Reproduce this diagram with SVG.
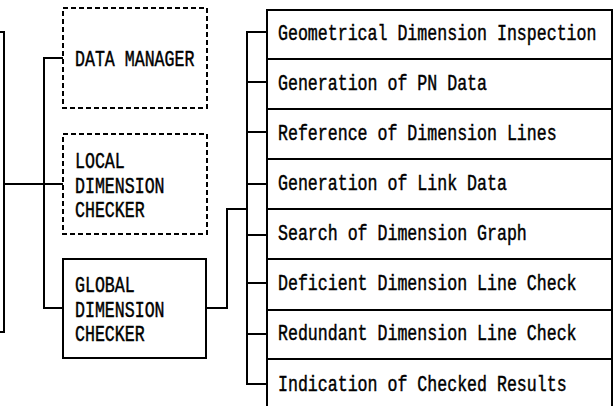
<svg xmlns="http://www.w3.org/2000/svg" width="616" height="406" viewBox="0 0 616 406">
  <style>
    .box { fill: #fff; stroke: #000; stroke-width: 2; }
    .dash { fill: #fff; stroke: #000; stroke-width: 2; stroke-dasharray: 5 3; }
    .wire { fill: none; stroke: #000; stroke-width: 2; }
    text { font-family: "Liberation Mono", "DejaVu Sans Mono", monospace; font-size: 16.6px; fill: #000; stroke: #000; stroke-width: 0.35; }
  </style>
  <rect width="616" height="406" fill="#fff"/>

  <!-- parent block, partly outside the frame -->
  <g id="parent">
    <path class="wire" d="M0,32 H4 V332 H0"/>
  </g>

  <g id="connectors">
    <!-- parent to the three modules -->
    <path class="wire" d="M4,184 H63"/>
    <path class="wire" d="M63,58 H44 V308 H63"/>
    <!-- global checker to its functions -->
    <path class="wire" d="M206,308 H227 V209 H247"/>
    <path class="wire" d="M267,32 H247 V384 H267"/>
    <path class="wire" d="M247,82 H267 M247,132 H267 M247,184 H267 M247,235 H267 M247,283 H267 M247,334 H267"/>
  </g>

  <!-- labels use a tall, narrow face: 10px advance, stretched vertically -->
  <g id="data-manager">
    <rect class="dash" x="63" y="8" width="144" height="100"/>
    <text transform="translate(75,66) scale(1,1.28)">DATA MANAGER</text>
  </g>

  <g id="local-checker">
    <rect class="dash" x="63" y="134" width="144" height="100"/>
    <text transform="translate(75,168) scale(1,1.28)">LOCAL</text>
    <text transform="translate(75,193) scale(1,1.28)">DIMENSION</text>
    <text transform="translate(75,217) scale(1,1.28)">CHECKER</text>
  </g>

  <g id="global-checker">
    <rect class="box" x="63" y="259" width="143" height="99"/>
    <text transform="translate(75,292) scale(1,1.28)">GLOBAL</text>
    <text transform="translate(75,317) scale(1,1.28)">DIMENSION</text>
    <text transform="translate(75,341) scale(1,1.28)">CHECKER</text>
  </g>

  <g id="geometrical-inspection">
    <rect class="box" x="267" y="10" width="345" height="49"/>
    <text transform="translate(278,40) scale(1,1.28)">Geometrical Dimension Inspection</text>
  </g>
  <g id="pn-data">
    <rect class="box" x="267" y="59" width="345" height="50"/>
    <text transform="translate(278,90) scale(1,1.28)">Generation of PN Data</text>
  </g>
  <g id="reference-lines">
    <rect class="box" x="267" y="109" width="345" height="50"/>
    <text transform="translate(278,140) scale(1,1.28)">Reference of Dimension Lines</text>
  </g>
  <g id="link-data">
    <rect class="box" x="267" y="159" width="345" height="50"/>
    <text transform="translate(278,190) scale(1,1.28)">Generation of Link Data</text>
  </g>
  <g id="graph-search">
    <rect class="box" x="267" y="209" width="345" height="50"/>
    <text transform="translate(278,240) scale(1,1.28)">Search of Dimension Graph</text>
  </g>
  <g id="deficient-check">
    <rect class="box" x="267" y="259" width="345" height="51"/>
    <text transform="translate(278,290) scale(1,1.28)">Deficient Dimension Line Check</text>
  </g>
  <g id="redundant-check">
    <rect class="box" x="267" y="310" width="345" height="49"/>
    <text transform="translate(278,340) scale(1,1.28)">Redundant Dimension Line Check</text>
  </g>
  <g id="checked-results">
    <path class="wire" d="M267,359 H612 M267,359 V410 M612,359 V410"/>
    <text transform="translate(278,391) scale(1,1.28)">Indication of Checked Results</text>
  </g>
</svg>
